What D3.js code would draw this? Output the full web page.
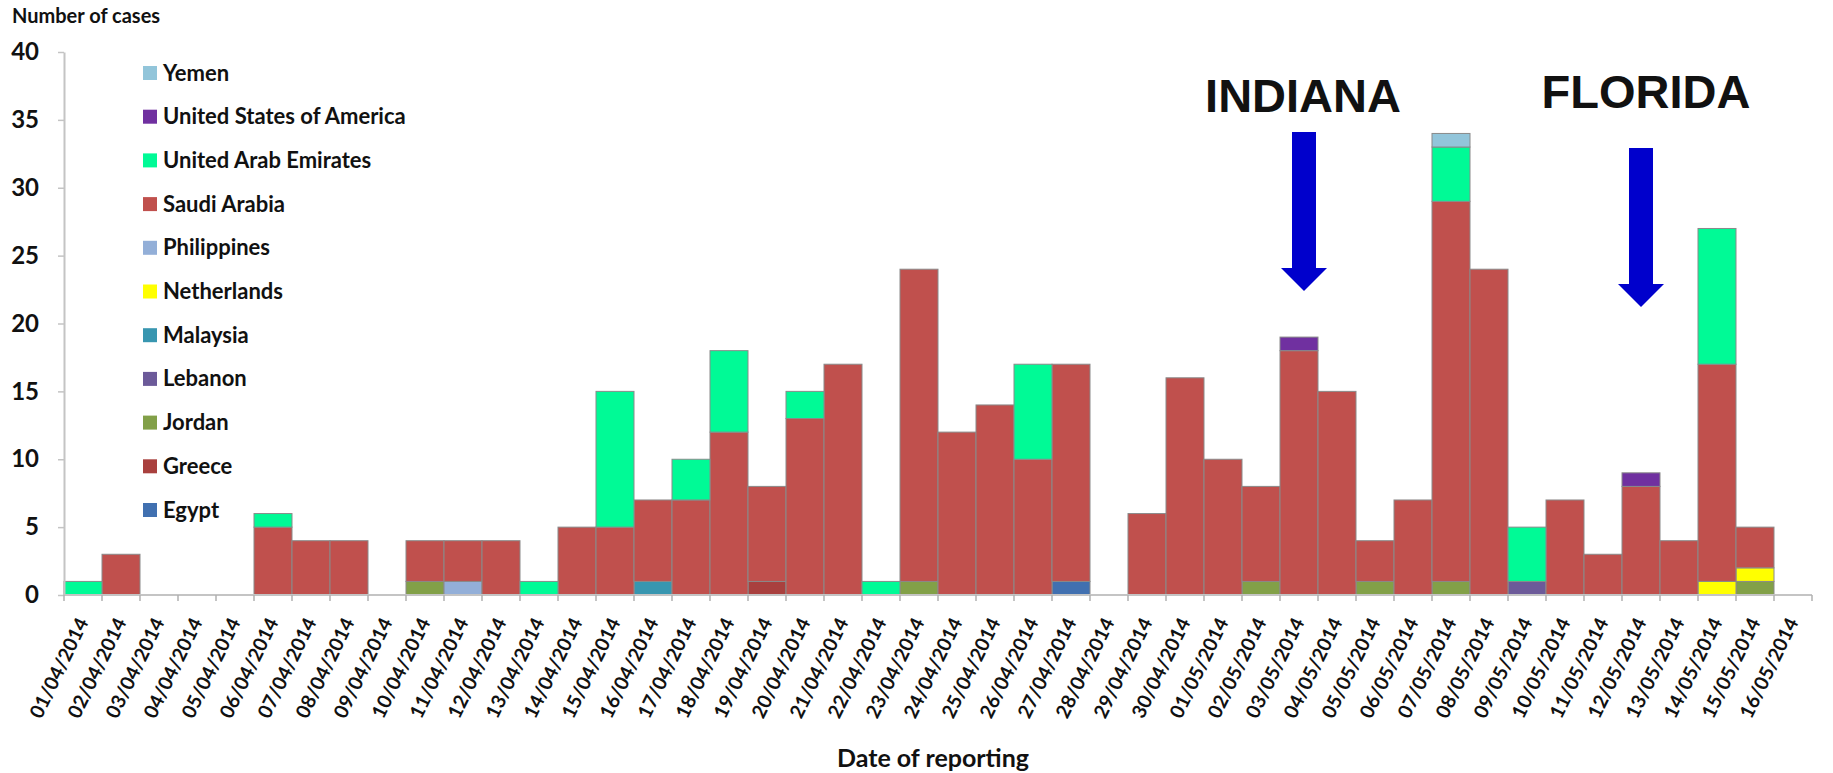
<!DOCTYPE html>
<html>
<head>
<meta charset="utf-8">
<script src="https://cdn.jsdelivr.net/npm/d3@7"></script>
<style>
  html, body { margin: 0; padding: 0; background: #fff; }
  svg { display: block; }
  text { font-family: Lato, "Open Sans", "Liberation Sans", sans-serif; font-weight: 700; fill: #111; }
</style>
</head>
<body>
<svg id="chart" width="1833" height="773"></svg>
<script>
// Reporting dates (one bar per day)
const dates = [
  "01/04/2014","02/04/2014","03/04/2014","04/04/2014","05/04/2014","06/04/2014","07/04/2014","08/04/2014",
  "09/04/2014","10/04/2014","11/04/2014","12/04/2014","13/04/2014","14/04/2014","15/04/2014","16/04/2014",
  "17/04/2014","18/04/2014","19/04/2014","20/04/2014","21/04/2014","22/04/2014","23/04/2014","24/04/2014",
  "25/04/2014","26/04/2014","27/04/2014","28/04/2014","29/04/2014","30/04/2014","01/05/2014","02/05/2014",
  "03/05/2014","04/05/2014","05/05/2014","06/05/2014","07/05/2014","08/05/2014","09/05/2014","10/05/2014",
  "11/05/2014","12/05/2014","13/05/2014","14/05/2014","15/05/2014","16/05/2014"
];

// Cases per reporting country, per day
const egypt       = [0,0,0,0,0,0,0,0,0,0,0,0,0,0,0,0,0,0,0,0,0,0,0,0,0,0,1,0,0,0,0,0,0,0,0,0,0,0,0,0,0,0,0,0,0,0];
const greece      = [0,0,0,0,0,0,0,0,0,0,0,0,0,0,0,0,0,0,1,0,0,0,0,0,0,0,0,0,0,0,0,0,0,0,0,0,0,0,0,0,0,0,0,0,0,0];
const jordan      = [0,0,0,0,0,0,0,0,0,1,0,0,0,0,0,0,0,0,0,0,0,0,1,0,0,0,0,0,0,0,0,1,0,0,1,0,1,0,0,0,0,0,0,0,1,0];
const lebanon     = [0,0,0,0,0,0,0,0,0,0,0,0,0,0,0,0,0,0,0,0,0,0,0,0,0,0,0,0,0,0,0,0,0,0,0,0,0,0,1,0,0,0,0,0,0,0];
const malaysia    = [0,0,0,0,0,0,0,0,0,0,0,0,0,0,0,1,0,0,0,0,0,0,0,0,0,0,0,0,0,0,0,0,0,0,0,0,0,0,0,0,0,0,0,0,0,0];
const netherlands = [0,0,0,0,0,0,0,0,0,0,0,0,0,0,0,0,0,0,0,0,0,0,0,0,0,0,0,0,0,0,0,0,0,0,0,0,0,0,0,0,0,0,0,1,1,0];
const philippines = [0,0,0,0,0,0,0,0,0,0,1,0,0,0,0,0,0,0,0,0,0,0,0,0,0,0,0,0,0,0,0,0,0,0,0,0,0,0,0,0,0,0,0,0,0,0];
const saudiArabia = [0,3,0,0,0,5,4,4,0,3,3,4,0,5,5,6,7,12,7,13,17,0,23,12,14,10,16,0,6,16,10,7,18,15,3,7,28,24,0,7,3,8,4,16,3,0];
const uae         = [1,0,0,0,0,1,0,0,0,0,0,0,1,0,10,0,3,6,0,2,0,1,0,0,0,7,0,0,0,0,0,0,0,0,0,0,4,0,4,0,0,0,0,10,0,0];
const usa         = [0,0,0,0,0,0,0,0,0,0,0,0,0,0,0,0,0,0,0,0,0,0,0,0,0,0,0,0,0,0,0,0,1,0,0,0,0,0,0,0,0,1,0,0,0,0];
const yemen       = [0,0,0,0,0,0,0,0,0,0,0,0,0,0,0,0,0,0,0,0,0,0,0,0,0,0,0,0,0,0,0,0,0,0,0,0,1,0,0,0,0,0,0,0,0,0];

// Stacking order, bottom to top
const countries = ["Egypt","Greece","Jordan","Lebanon","Malaysia","Netherlands","Philippines",
                   "Saudi Arabia","United Arab Emirates","United States of America","Yemen"];
const seriesValues = [egypt, greece, jordan, lebanon, malaysia, netherlands, philippines,
                      saudiArabia, uae, usa, yemen];
const colors = ["#4170B0","#A9403E","#82A048","#6C5A99","#3896B0","#FFFF00","#93AFD8",
                "#C0504D","#00FA96","#7030A0","#92C5DA"];

const yTicks = [0, 5, 10, 15, 20, 25, 30, 35, 40];

// Annotated reporting dates
const annotations = [
  { date: "03/05/2014", label: "INDIANA" },
  { date: "12/05/2014", label: "FLORIDA" }
];

const rows = dates.map((d, i) => {
  const r = { date: d };
  countries.forEach((c, k) => { r[c] = seriesValues[k][i]; });
  return r;
});

const svg = d3.select("#chart");
const plotLeft = 64, plotRight = 1812, plotTop = 52, plotBottom = 595;

const x = d3.scaleBand().domain(dates).range([plotLeft, plotRight]).padding(0);
const y = d3.scaleLinear().domain([0, 40]).range([plotBottom, plotTop]);
const color = d3.scaleOrdinal().domain(countries).range(colors);

const stacked = d3.stack().keys(countries)(rows);

// Bars
const layers = svg.append("g").selectAll("g")
  .data(stacked).join("g")
  .attr("fill", d => color(d.key));

layers.selectAll("rect")
  .data(d => d.filter(s => s[1] - s[0] > 0))
  .join("rect")
  .attr("x", s => x(s.data.date))
  .attr("width", x.bandwidth())
  .attr("y", s => y(s[1]))
  .attr("height", s => y(s[0]) - y(s[1]))
  .attr("stroke", "#8a8a8a")
  .attr("stroke-width", 1);

// Y axis
const yAxis = svg.append("g")
  .attr("transform", `translate(${plotLeft},0)`)
  .call(d3.axisLeft(y).tickValues(yTicks).tickSize(6).tickPadding(19).tickSizeOuter(0));
yAxis.select(".domain").attr("stroke", "#c4c4c4").attr("stroke-width", 2);
yAxis.selectAll(".tick line").attr("stroke", "#c4c4c4").attr("stroke-width", 1.5);
yAxis.selectAll(".tick text")
  .style("font-size", "24px").style("font-weight", 700).attr("fill", "#111");

// X axis with ticks at band boundaries
const xAxisG = svg.append("g");
xAxisG.append("line")
  .attr("x1", plotLeft).attr("x2", plotRight).attr("y1", plotBottom).attr("y2", plotBottom)
  .attr("stroke", "#c4c4c4").attr("stroke-width", 2);
const boundaries = dates.map(d => x(d)).concat([x(dates[dates.length - 1]) + x.bandwidth()]);
xAxisG.selectAll("line.tk")
  .data(boundaries)
  .join("line").attr("class", "tk")
  .attr("x1", b => b).attr("x2", b => b)
  .attr("y1", plotBottom).attr("y2", plotBottom + 6)
  .attr("stroke", "#b0b0b0").attr("stroke-width", 1.5);

xAxisG.selectAll("text")
  .data(dates).join("text")
  .attr("transform", d => `translate(${x(d) + x.bandwidth() / 2 + 6},${plotBottom + 27}) rotate(-64)`)
  .attr("text-anchor", "end")
  .style("font-size", "19.5px")
  .text(d => d);

// Axis titles
svg.append("text").attr("x", 12).attr("y", 23).style("font-size", "20px").text("Number of cases");
svg.append("text").attr("x", 933).attr("y", 767).attr("text-anchor", "middle")
  .style("font-size", "25px").text("Date of reporting");

// Legend (top entry is the top of the stack)
const legend = svg.append("g");
const legendOrder = countries.slice().reverse();
legendOrder.forEach((c, i) => {
  const cy = 73 + i * 43.7;
  legend.append("rect").attr("x", 143).attr("y", cy - 7).attr("width", 14).attr("height", 14)
    .attr("fill", color(c));
  legend.append("text").attr("x", 163).attr("y", cy + 7.5).style("font-size", "22px").text(c);
});

// State annotations with arrows
const arrowTops = [132, 148];
const labelBaselines = [112, 108];
annotations.forEach((a, i) => {
  const cx = x(a.date) + x.bandwidth() / 2 + (i === 0 ? 5 : 0);
  const t = arrowTops[i];
  const headStart = t + 136;
  const tip = headStart + 23;
  svg.append("path")
    .attr("d", `M${cx - 12},${t} L${cx + 12},${t} L${cx + 12},${headStart} L${cx + 23},${headStart} ` +
               `L${cx},${tip} L${cx - 23},${headStart} L${cx - 12},${headStart} Z`)
    .attr("fill", "#0000CC");
  svg.append("text")
    .attr("x", i === 0 ? 1303 : 1646).attr("y", labelBaselines[i])
    .attr("text-anchor", "middle")
    .style("font-family", "'Liberation Sans', Arial, sans-serif")
    .style("font-size", "47px").style("font-weight", 700).attr("fill", "#000")
    .text(a.label);
});
</script>
</body>
</html>
